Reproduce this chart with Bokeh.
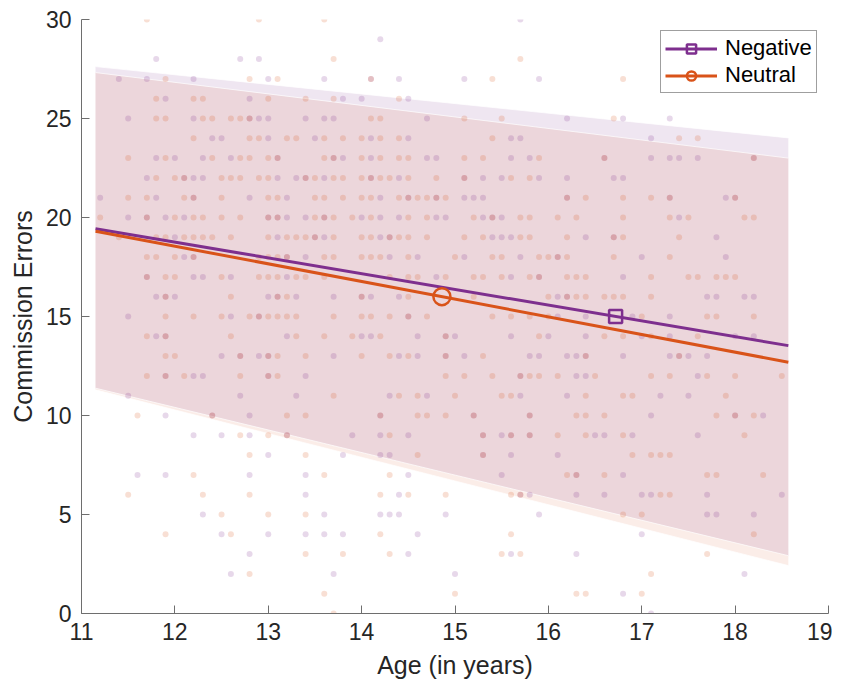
from bokeh.plotting import figure
from bokeh.models import Range1d, Legend, LegendItem, FixedTicker, ColumnDataSource
from bokeh.embed import file_html
from bokeh.resources import INLINE

# ---------------- data ----------------
# Scatter: commission errors (keys) -> ages of participants (values)
negative_points = {
    30: [15.7],
    29: [14.2],
    28: [11.8, 12.7, 12.9],
    27: [11.4, 11.7, 12.2, 13.0, 13.6, 14.1, 14.4, 15.1, 15.9],
    26: [11.9, 12.8, 13.8, 14.0, 14.5],
    25: [11.5, 12.2, 12.8, 12.9, 13.0, 13.4, 13.6, 13.7, 14.7, 16.2, 16.8, 17.3],
    24: [12.4, 12.5, 13.0, 13.5, 14.1, 14.5, 15.6, 15.7, 17.1],
    23: [11.8, 12.0, 12.3, 12.6, 13.1, 13.7, 13.8, 14.1, 14.7, 14.8, 15.6, 15.8, 16.6, 17.1, 17.3, 17.4, 17.6, 18.2],
    22: [11.7, 12.1, 12.2, 12.3, 13.1, 13.3, 13.4, 13.6, 14.1, 14.4, 15.1, 15.3, 15.5, 15.9, 16.2, 16.7, 16.8],
    21: [11.2, 11.8, 12.2, 12.8, 13.2, 14.2, 14.5, 14.8, 15.1, 15.2, 15.3, 16.2, 17.3, 17.9, 18.0],
    20: [11.5, 11.7, 11.9, 12.1, 13.0, 13.1, 13.2, 13.4, 13.6, 14.0, 14.2, 14.4, 14.8, 14.9, 15.3, 15.4, 15.5, 17.4],
    19: [12.0, 13.1, 13.5, 13.6, 14.2, 14.3, 15.4, 15.5, 15.6, 16.4, 16.7, 17.8],
    18: [12.1, 12.2, 13.2, 13.4, 14.3, 14.6, 15.1, 15.7, 16.1, 17.0, 17.9],
    17: [11.7, 12.2, 12.3, 12.6, 13.2, 14.8, 15.6, 15.9, 16.8],
    16: [11.8, 11.9, 12.0, 13.0, 13.1, 13.3, 13.7, 14.0, 14.1, 14.4, 16.1, 16.2, 17.7, 17.8, 18.1, 18.2],
    15: [11.5, 12.6, 12.9, 14.5, 16.1, 16.4, 16.9, 17.3],
    14: [11.8, 11.9, 13.2, 14.0, 14.1, 14.6, 14.9, 15.0, 15.6, 16.0, 16.4, 17.0, 17.3, 18.0, 18.2],
    13: [12.5, 12.7, 12.9, 13.0, 13.7, 14.4, 14.6, 14.9, 15.1, 15.8, 15.9, 16.2, 16.3, 16.4, 16.8, 17.3, 17.4, 17.5, 17.7],
    12: [11.9, 12.2, 12.3, 13.0, 13.4, 15.7, 16.3, 16.4, 17.6],
    11: [11.5, 12.7, 13.3, 14.3, 14.7, 15.7, 16.2, 17.2, 17.5],
    10: [11.9, 12.4, 12.8, 14.2, 15.2, 15.8, 17.1, 18.0, 18.3],
    9: [12.2, 12.5, 12.8, 13.2, 13.9, 14.2, 14.5, 15.3, 15.5, 15.6, 15.8, 16.5, 16.6, 16.9, 17.6],
    8: [13.0, 13.8, 14.2, 14.3, 15.3, 15.6, 16.1],
    7: [11.6, 11.9, 12.8, 13.4, 14.5, 15.5, 16.3, 16.8],
    6: [13.4, 14.4, 15.7, 15.8, 16.3, 16.6, 17.0, 17.1, 17.7, 18.5],
    5: [12.3, 13.6, 14.2, 14.3, 14.4, 14.9, 15.9, 17.7, 17.8, 18.2],
    4: [12.5, 13.0, 13.4, 13.6, 13.8, 14.6, 17.0],
    3: [12.8, 14.5, 15.6, 16.3],
    2: [12.6, 13.7, 15.0, 18.1],
    1: [16.8],
    0: [17.1],
}
neutral_points = {
    30: [11.7, 12.9, 13.6],
    28: [13.7, 15.7],
    27: [11.9, 12.8, 13.1, 14.1, 15.4, 16.8],
    26: [11.8, 12.2, 12.3, 13.0, 13.4, 13.7, 14.4],
    25: [11.8, 11.9, 12.3, 12.4, 12.6, 12.7, 12.8, 14.1, 14.2, 15.1, 15.5, 16.7],
    24: [12.2, 12.8, 12.9, 13.2, 13.3, 13.6, 13.8, 14.0, 14.2, 14.4, 15.4, 17.4, 17.6],
    23: [11.5, 11.9, 12.4, 12.7, 12.8, 13.0, 13.1, 13.6, 13.7, 14.0, 14.2, 14.4, 14.5, 15.1, 15.3, 15.9, 16.6, 18.2],
    22: [11.8, 12.0, 12.1, 12.5, 12.6, 12.7, 12.9, 13.0, 13.4, 13.5, 13.7, 13.8, 14.0, 14.1, 14.2, 14.3, 14.5, 14.8, 15.1, 15.6, 15.8],
    21: [11.5, 11.7, 12.1, 12.2, 12.5, 13.0, 13.1, 13.5, 13.6, 13.8, 14.0, 14.1, 14.4, 14.5, 14.6, 14.7, 14.8, 14.9, 16.2, 16.4, 16.8, 17.1, 17.3, 18.0],
    20: [11.2, 11.7, 12.0, 12.2, 12.3, 12.5, 12.7, 13.0, 13.1, 13.5, 13.6, 13.7, 13.9, 14.1, 14.5, 14.7, 15.2, 15.4, 15.7, 15.8, 16.1, 16.3, 16.8, 17.3, 17.5, 18.1, 18.2],
    19: [11.4, 11.8, 11.9, 12.1, 12.2, 12.3, 12.4, 12.6, 13.0, 13.2, 13.3, 13.4, 13.5, 13.7, 14.0, 14.1, 14.3, 14.4, 14.5, 14.7, 15.1, 15.3, 15.7, 15.8, 16.2, 16.7, 16.8, 17.4],
    18: [11.7, 11.8, 12.0, 12.2, 12.9, 13.0, 13.1, 13.2, 13.6, 13.7, 14.0, 14.1, 14.2, 14.5, 15.0, 15.4, 15.5, 15.9, 16.0, 16.1, 16.2, 16.7, 17.3],
    17: [11.7, 11.9, 12.0, 12.5, 12.9, 13.0, 13.1, 13.3, 13.4, 13.6, 14.3, 14.5, 14.6, 14.9, 15.2, 15.3, 15.5, 15.8, 15.9, 16.2, 16.3, 16.4, 17.1, 17.5, 17.6, 17.8, 17.9, 18.0],
    16: [11.9, 12.6, 13.1, 13.2, 14.0, 14.5, 15.2, 16.0, 16.2, 16.3, 16.4, 16.6, 16.7, 16.8, 17.1],
    15: [11.9, 12.2, 12.5, 12.8, 12.9, 13.0, 13.1, 13.2, 13.3, 13.7, 14.0, 14.1, 14.3, 14.5, 14.7, 15.4, 15.6, 15.8, 16.0, 17.0, 17.7, 17.8, 18.2],
    14: [11.7, 11.9, 12.6, 13.3, 13.6, 13.9, 14.2, 14.9, 15.9, 16.6, 16.8, 17.1, 17.6],
    13: [11.9, 12.0, 12.7, 13.0, 13.1, 13.4, 14.0, 14.3, 14.5, 14.9, 15.3, 16.4, 17.4],
    12: [11.7, 11.9, 12.1, 12.7, 13.0, 13.1, 14.9, 15.1, 15.4, 15.7, 15.8, 15.9, 16.1, 16.5, 17.1, 17.3, 17.7, 18.0, 18.5],
    11: [13.7, 14.4, 14.6, 15.0, 15.5, 15.6, 16.4, 16.8, 16.9, 17.9],
    10: [11.6, 12.4, 13.2, 13.4, 14.2, 14.6, 14.7, 14.9, 15.2, 15.8, 16.3, 16.4, 16.6, 17.8, 18.0, 18.2],
    9: [12.7, 13.0, 13.2, 14.3, 15.3, 15.6, 15.8, 16.1, 16.4, 16.8, 18.1],
    8: [12.8, 13.4, 14.6, 15.3, 16.9, 17.1, 17.2, 17.3],
    7: [12.2, 13.6, 14.3, 16.2, 16.3, 16.6, 17.7, 17.8, 18.3],
    6: [11.5, 12.3, 12.8, 14.2, 14.5, 14.9, 15.6, 15.7, 17.2, 17.3],
    5: [12.5, 13.0, 13.4, 16.8, 17.0],
    4: [11.9, 12.6, 14.2, 15.6, 18.2],
    3: [13.4, 13.8, 14.3, 15.5, 15.7, 17.7],
    2: [12.8, 17.1],
    1: [13.6, 15.0, 16.3, 16.4, 17.0],
    0: [13.7],
}

# Fitted lines and prediction bands (values at the two ends of the age range)
fit_age = [11.15, 18.57]
negative_fit = [19.43, 13.53]
neutral_fit = [19.31, 12.69]
negative_lower = [11.38, 2.92]
negative_upper = [27.62, 24.02]
neutral_lower = [11.30, 2.42]
neutral_upper = [27.32, 23.00]
negative_marker = ([16.72], [15.0])
neutral_marker = ([14.86], [16.0])

x_ticks = [11, 12, 13, 14, 15, 16, 17, 18, 19]
y_ticks = [0, 5, 10, 15, 20, 25, 30]

NEG = "#7E2F8E"
NEU = "#D95319"
FONT = "Liberation Sans"
TXT = "#262626"


def flatten(pts):
    xs, ys = [], []
    for err, ages in pts.items():
        for a in ages:
            xs.append(a)
            ys.append(err)
    return xs, ys


p = figure(width=832, height=684, output_backend="svg", toolbar_location=None,
           x_range=Range1d(11, 19), y_range=Range1d(0, 30),
           min_border_left=81, min_border_right=4, min_border_top=19, min_border_bottom=71)
p.outline_line_color = None
p.xgrid.visible = False
p.ygrid.visible = False
p.background_fill_color = "white"

# Prediction bands
band_src = ColumnDataSource(dict(x=fit_age, nl=negative_lower, nu=negative_upper,
                                 el=neutral_lower, eu=neutral_upper))
p.varea(x="x", y1="nl", y2="nu", source=band_src, fill_color=NEG, fill_alpha=0.12)
p.varea(x="x", y1="el", y2="eu", source=band_src, fill_color=NEU, fill_alpha=0.10)
for col in ["nl", "nu", "el", "eu"]:
    p.line(x="x", y=col, source=band_src, line_color="white", line_width=1, line_alpha=0.7)

# Scatter
nx, ny = flatten(negative_points)
ex, ey = flatten(neutral_points)
p.scatter(nx, ny, size=6, fill_color=NEG, fill_alpha=0.19, line_color=None)
p.scatter(ex, ey, size=6, fill_color=NEU, fill_alpha=0.19, line_color=None)

# Fit lines
l_neg = p.line(fit_age, negative_fit, line_color=NEG, line_width=3)
l_neu = p.line(fit_age, neutral_fit, line_color=NEU, line_width=3)
m_neg = p.scatter(negative_marker[0], negative_marker[1], marker="square", size=13,
                  fill_color=None, line_color=NEG, line_width=2.5)
m_neu = p.scatter(neutral_marker[0], neutral_marker[1], marker="circle", size=17,
                  fill_color=None, line_color=NEU, line_width=2.5)

# Axes
for ax in (p.xaxis, p.yaxis):
    ax.major_tick_in = 8
    ax.major_tick_out = 0
    ax.minor_tick_line_color = None
    ax.axis_line_color = "#6e6e6e"
    ax.major_tick_line_color = "#6e6e6e"
    ax.major_label_text_font = FONT
    ax.major_label_text_font_size = "23px"
    ax.major_label_text_color = TXT
    ax.axis_label_text_font = FONT
    ax.axis_label_text_font_size = "25px"
    ax.axis_label_text_font_style = "normal"
    ax.axis_label_text_color = TXT
p.xaxis.ticker = FixedTicker(ticks=x_ticks)
p.yaxis.ticker = FixedTicker(ticks=y_ticks)
p.xaxis.axis_label = "Age (in years)"
p.yaxis.axis_label = "Commission Errors"
p.xaxis.major_label_standoff = 9
p.yaxis.major_label_standoff = 10
p.xaxis.axis_label_standoff = 8
p.yaxis.axis_label_standoff = 6

legend = Legend(items=[LegendItem(label="Negative", renderers=[l_neg, m_neg]),
                       LegendItem(label="Neutral", renderers=[l_neu, m_neu])],
                location=(579, 520), margin=0, padding=4, spacing=1,
                glyph_width=52, glyph_height=23, label_height=23, label_standoff=8,
                label_text_font=FONT, label_text_font_size="22px", label_text_color="black",
                border_line_color="#404040", border_line_width=1,
                background_fill_color="white", background_fill_alpha=1)
p.add_layout(legend)

open("out.html", "w").write(file_html(p, INLINE))
